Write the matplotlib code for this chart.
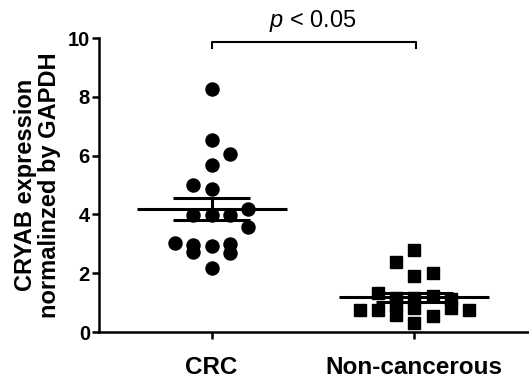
import numpy as np
import matplotlib
matplotlib.use("Agg")
import matplotlib.pyplot as plt

plt.rcParams['font.family'] = ['Liberation Sans', 'DejaVu Sans']
plt.rcParams['mathtext.fontset'] = 'custom'
plt.rcParams['mathtext.it'] = 'Liberation Sans:italic'
plt.rcParams['mathtext.rm'] = 'Liberation Sans'

categories = ["CRC", "Non-cancerous"]
crc_values = [8.25, 6.53, 6.04, 5.68, 5.00, 4.85, 4.18, 3.98, 3.98, 3.98,
              3.58, 3.02, 2.96, 2.73, 2.93, 2.98, 2.70, 2.17]
crc_cols = [0, 0, 1, 0, -1, 0, 2, -1, 0, 1, 2, -2, -1, -1, 0, 1, 1, 0]
non_values = [2.79, 2.37, 1.92, 2.00, 1.33, 1.15, 1.15, 1.22, 1.12, 0.76,
              0.76, 0.58, 0.80, 0.56, 0.80, 0.76, 0.30, 0.92]
non_cols = [0, -1, 0, 1, -2, -1, 0, 1, 2, -3, -2, -1, 0, 1, 2, 3, 0, -1]
yticks = [0, 2, 4, 6, 8, 10]
p_text = r"$\it{p}$ < 0.05"

fig = plt.figure(figsize=(5.29, 3.81), dpi=100)
ax = fig.add_axes([99/529, 49/381, 1 - 99/529, 294/381])

step = 0.09
groups = [(crc_values, crc_cols, 'o', 9.4), (non_values, non_cols, 's', 9.0)]
for i, (vals, cols, mk, ms) in enumerate(groups):
    v = np.array(vals)
    x = i + step * np.array(cols)
    ax.plot(x, v, linestyle='none', marker=mk, ms=ms, color='black', mec='black')
    m = v.mean()
    sem = v.std(ddof=1) / np.sqrt(len(v))
    ax.hlines(m, i - 0.37, i + 0.37, color='black', lw=2.2)
    ax.hlines([m - sem, m + sem], i - 0.19, i + 0.19, color='black', lw=2.2)
    ax.vlines(i, m - sem, m + sem, color='black', lw=2.2)

# significance bracket
ax.plot([0, 0, 1.01, 1.01], [9.65, 9.88, 9.88, 9.65], color='black', lw=1.5, clip_on=False)
ax.text(0.5, 10.15, p_text, ha='center', va='bottom', fontsize=17)

ax.set_ylim(0, 10)
ax.set_xlim(-0.556, 1.566)
ax.set_yticks(yticks)
ax.set_xticks([0, 1])
ax.set_xticklabels(categories, fontsize=17.5, fontweight='bold')
for lab in ax.get_yticklabels():
    lab.set_fontsize(14.5)
    lab.set_fontweight('bold')
ax.set_ylabel("CRYAB expression\nnormalinzed by GAPDH", fontsize=17, fontweight='bold',
              labelpad=5, linespacing=1.05)
ax.spines['top'].set_visible(False)
ax.spines['right'].set_visible(False)
ax.spines['left'].set_linewidth(1.8)
ax.spines['bottom'].set_linewidth(1.8)
ax.tick_params(axis='y', length=5, width=1.8, pad=1.5)
ax.tick_params(axis='x', length=5, width=1.8, pad=12)

fig.savefig("out.png", dpi=100)
